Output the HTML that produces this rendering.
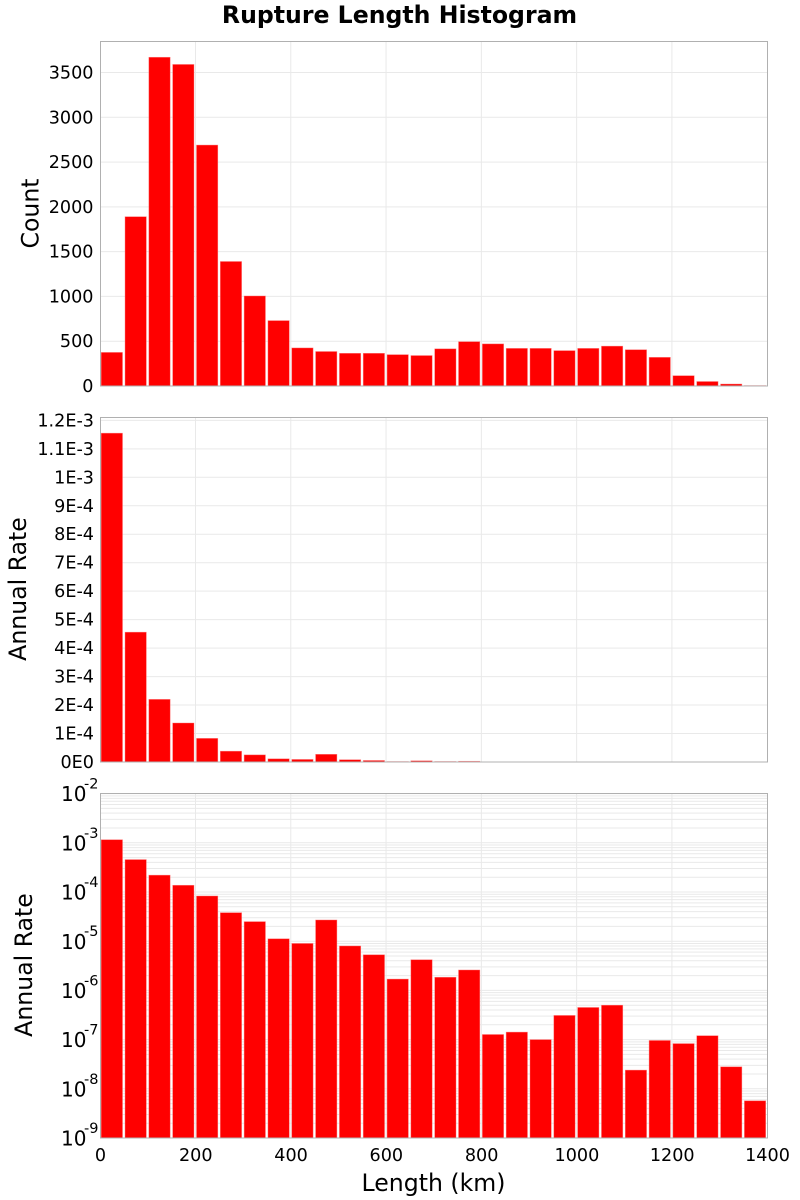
<!DOCTYPE html>
<html lang="en">
<head>
<meta charset="utf-8">
<title>Rupture Length Histogram</title>
<style>
html,body{margin:0;padding:0;background:#fff;width:800px;height:1200px;overflow:hidden}
svg{display:block}
text{font-family:"DejaVu Sans","Liberation Sans",sans-serif;fill:#000}
</style>
</head>
<body>
<svg id="chart" xmlns="http://www.w3.org/2000/svg" width="800" height="1200" viewBox="0 0 800 1200">
<text x="399.5" y="23" text-anchor="middle" font-size="23.6" font-weight="bold">Rupture Length Histogram</text>
<text transform="translate(38.5,213.5) rotate(-90)" text-anchor="middle" font-size="23.6">Count</text>
<text transform="translate(26,589) rotate(-90)" text-anchor="middle" font-size="23.6">Annual Rate</text>
<text transform="translate(32,965) rotate(-90)" text-anchor="middle" font-size="23.6">Annual Rate</text>
<text x="433.5" y="1191" text-anchor="middle" font-size="23.6">Length (km)</text>
</svg>
<script>
const binStarts = [0,50,100,150,200,250,300,350,400,450,500,550,600,650,700,750,800,850,900,950,1000,1050,1100,1150,1200,1250,1300,1350];
const counts = [375,1890,3670,3590,2690,1390,1005,730,425,385,365,365,350,340,415,495,470,420,420,395,420,445,405,320,115,50,22,5];
const rates = [1.155e-3,4.56e-4,2.2e-4,1.37e-4,8.3e-5,3.8e-5,2.5e-5,1.12e-5,9.0e-6,2.7e-5,8.0e-6,5.3e-6,1.7e-6,4.2e-6,1.85e-6,2.6e-6,1.27e-7,1.42e-7,1.0e-7,3.1e-7,4.5e-7,5.0e-7,2.4e-8,9.6e-8,8.3e-8,1.2e-7,2.8e-8,5.7e-9];
const binWidth = 50;
const xTicks = [0,200,400,600,800,1000,1200,1400];
const countTicks = [0,500,1000,1500,2000,2500,3000,3500];
const rateTicks = [0,1e-4,2e-4,3e-4,4e-4,5e-4,6e-4,7e-4,8e-4,9e-4,1e-3,1.1e-3,1.2e-3];
const rateTickLabels = ['0E0','1E-4','2E-4','3E-4','4E-4','5E-4','6E-4','7E-4','8E-4','9E-4','1E-3','1.1E-3','1.2E-3'];
const logExponents = [-9,-8,-7,-6,-5,-4,-3,-2];
const minorMultipliers = [2,3,4,5,6,7,8,9];

const NS = 'http://www.w3.org/2000/svg';
const svg = document.getElementById('chart');
const plotLeft = 100.5, plotRight = 767.5;
const xScale = v => plotLeft + v / 1400 * (plotRight - plotLeft);
const yCount = v => 386 - v / 3500 * 313.5;
const yRate = v => 762 - v / 1e-4 * 28.47;
const yLog = v => 1138 - (Math.log10(v) + 9) * 49.2;

function add(tag, attrs, parent) {
  const el = document.createElementNS(NS, tag);
  for (const k in attrs) el.setAttribute(k, attrs[k]);
  (parent || svg).appendChild(el);
  return el;
}
function gridLine(group, x1, y1, x2, y2) {
  const l = add('line', {x1: x1, y1: y1, x2: x2, y2: y2, stroke: '#e9e9e9', 'stroke-width': 1}, group);
  
  
}
function tickText(str, x, y, size, anchor) {
  const t = add('text', {x: x, y: y, 'font-size': size, 'text-anchor': anchor});
  t.textContent = str;
  
  
  return t;
}
function panel(name, top, bottom, yFn, values) {
  const g = add('g', {});
  
  
  xTicks.slice(1, -1).forEach(t => gridLine(g, xScale(t) - 0.3, top, xScale(t) - 0.3, bottom));
  return {
    g: g,
    finish() {
      values.forEach((v, i) => {
        const x0 = xScale(binStarts[i]) + 0.7;
        const x1 = xScale(binStarts[i] + binWidth) - 1.8;
        const yt = yFn(v);
        const r = add('rect', {x: x0, y: yt, width: x1 - x0, height: Math.max(0, bottom - yt), fill: '#ff0000', stroke: 'rgba(255,120,120,0.7)', 'stroke-width': 0.6}, g);
        
        
      });
      const b = add('rect', {x: plotLeft, y: top, width: plotRight - plotLeft, height: bottom - top, fill: 'none', stroke: '#b0b0b0', 'stroke-width': 1}, g);
      
      
    }
  };
}

const p1 = panel('count', 41.5, 386, yCount, counts);
countTicks.slice(1).forEach(t => gridLine(p1.g, plotLeft, yCount(t), plotRight, yCount(t)));
p1.finish();
countTicks.forEach(t => tickText(String(t), 93.5, yCount(t) + 6, 17.6, 'end'));

const p2 = panel('rate', 417.5, 762, yRate, rates);
rateTicks.slice(1).forEach(t => gridLine(p2.g, plotLeft, yRate(t), plotRight, yRate(t)));
p2.finish();
rateTicks.forEach((t, i) => tickText(rateTickLabels[i], 94, yRate(t) + 6, 17.6, 'end'));

const p3 = panel('log-rate', 793.5, 1138, yLog, rates);
logExponents.forEach(e => {
  const major = Math.pow(10, e);
  if (e > -9) gridLine(p3.g, plotLeft, yLog(major), plotRight, yLog(major));
  if (e < -2) minorMultipliers.forEach(m => gridLine(p3.g, plotLeft, yLog(m * major), plotRight, yLog(m * major)));
});
p3.finish();
logExponents.forEach(e => {
  const y = yLog(Math.pow(10, e));
  tickText('10', 61, y + 7.6, 20, 'start');
  tickText(String(e), 84, y - 5, 14.5, 'start');
});
xTicks.forEach(t => tickText(String(t), xScale(t), 1161, 17.6, 'middle'));
</script>
</body>
</html>
